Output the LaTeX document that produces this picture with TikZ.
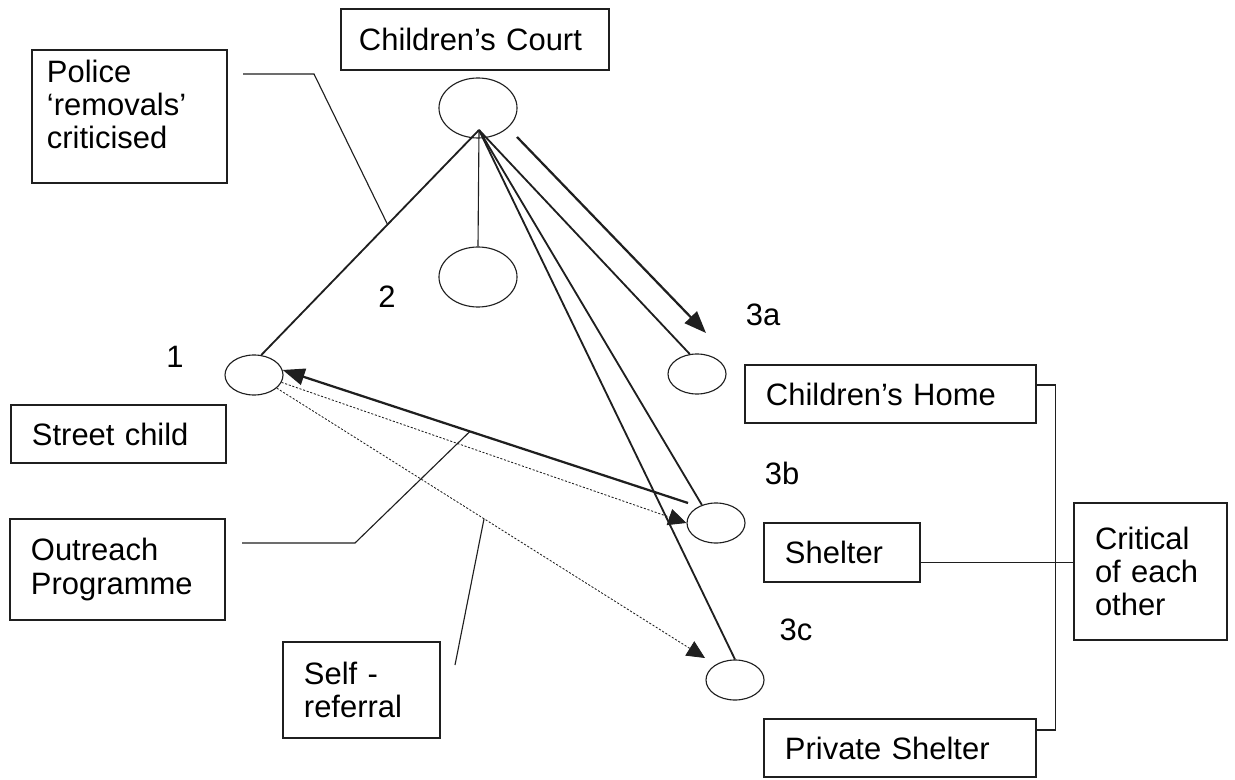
\documentclass[tikz,border=0pt]{standalone}
\usepackage{fontspec}
\setmainfont{Liberation Sans}
\usetikzlibrary{arrows.meta,calc,shapes.geometric}
\definecolor{LineClr}{rgb}{0.12,0.12,0.12}

\begin{document}
\begin{tikzpicture}[x=0.025cm,y=-0.025cm,
  box/.style={draw=LineClr,line width=0.8pt,align=left,inner xsep=0.525cm,inner ysep=0pt,
    font=\fontsize{22}{23.5}\selectfont},
  blob/.style={draw=LineClr,ellipse,line width=0.8pt,inner sep=0pt,minimum width=1.45cm,minimum height=1cm},
  bigblob/.style={blob,minimum width=1.95cm,minimum height=1.5cm},
  num/.style={inner sep=0pt,font=\fontsize{22}{23.5}\selectfont},
  link/.style={draw=LineClr,line width=0.8pt},
  heavy/.style={draw=LineClr,line width=1.3pt},
  push/.style={draw=LineClr,line width=1.6pt,-{Triangle[length=0.55cm,width=0.42cm]}},
  drift/.style={draw=LineClr,line width=0.6pt,dash pattern=on 1.5pt off 1.2pt,-{Triangle[length=0.45cm,width=0.42cm]}}]

\useasboundingbox (0,0) rectangle (1235,780);

\node[box,text width=5.8cm,inner xsep=0.45cm,minimum height=1.525cm] (court) at (475,39.5) {Children’s Court};
\node[box,text width=4.125cm,inner xsep=0.375cm,minimum height=3.325cm] (police) at (129.5,116.5) {Police\\‘removals’\\criticised\\[-0.23cm]\mbox{}};
\node[box,text width=4.325cm,minimum height=1.45cm] (child) at (118.5,434) {Street child};
\node[box,text width=4.325cm,minimum height=2.525cm] (outreach) at (117.5,569.5) {Outreach\\Programme};
\node[box,text width=2.875cm,minimum height=2.4cm] (selfref) at (361.5,690) {Self -\\referral};
\node[box,text width=6.225cm,minimum height=1.45cm] (home) at (890.5,394) {Children’s Home};
\node[box,text width=2.85cm,minimum height=1.475cm] (shelter) at (842,552.5) {Shelter};
\node[box,text width=5.75cm,minimum height=1.45cm] (private) at (900,748) {Private Shelter};
\node[box,text width=2.775cm,minimum height=3.425cm] (critical) at (1150.5,571.5) {Critical\\of each\\other};

\node[bigblob] (ecourt) at (478,108) {};
\node[bigblob] (emid) at (478,277) {};
\node[blob] (echild) at (254,375) {};
\node[blob] (e3a) at (697,374) {};
\node[blob] (e3b) at (716,523) {};
\node[blob] (e3c) at (735,680) {};

\node[num] (n1) at (175,357) {1};
\node[num] (n2) at (387,297) {2};
\node[num] (n3a) at (763,315) {3a};
\node[num] (n3b) at (782,473) {3b};
\node[num] (n3c) at (796,630) {3c};

\coordinate (hub) at (479,130);
\coordinate (homeA) at (517,137);
\coordinate (homeB) at (706,333);
\coordinate (back3b) at (688,503);
\coordinate (tip3c) at (705,658);
\coordinate (polA) at (243,74);
\coordinate (outA) at (242,543);
\coordinate (selfA) at (455,665);

\draw[heavy] (hub) -- coordinate[pos=0.42] (ppol) (echild.70);
\draw[link] (hub) -- (emid.north);
\draw[heavy] (hub) -- (e3a.110);
\draw[heavy] (hub) -- (e3b.128);
\draw[heavy] (hub) -- (e3c.north);
\draw[push] (homeA) -- (homeB);
\draw[push] (back3b) -- coordinate[pos=0.538] (pout) (echild.10);
\draw[drift] (echild.-15) -- (e3b.west);
\draw[drift] (echild.-30) -- coordinate[pos=0.484] (pself) (tip3c);

\draw[link] (polA) -- ++(71,0) -- (ppol);
\draw[link] (outA) -- ++(113,0) -- (pout);
\draw[link] (selfA) -- (pself);

\draw[link] ([yshift=0.225cm]home.east) -- ++(19,0) |- ([yshift=0.45cm]private.east);
\coordinate (shl) at ([yshift=-0.24cm]shelter.east);
\draw[link] (shl) -- (shl -| critical.west);

\end{tikzpicture}
\end{document}
